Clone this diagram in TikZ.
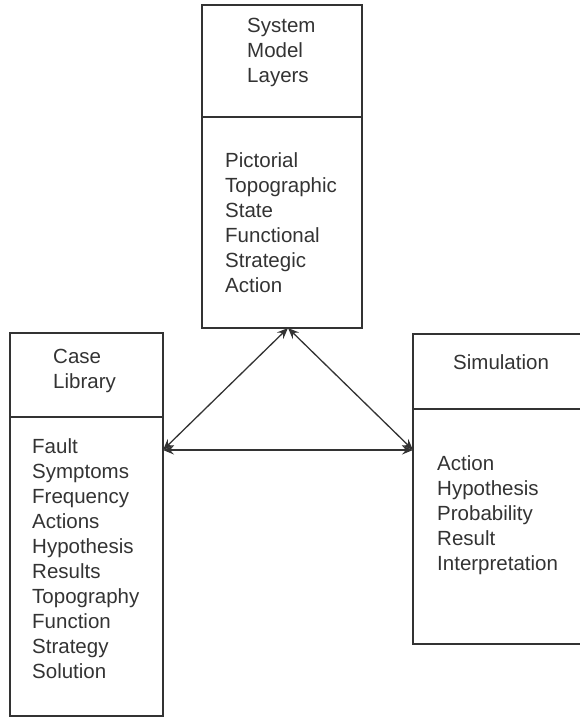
\documentclass[tikz,border=0pt]{standalone}
\usepackage{fontspec}
\setmainfont{Liberation Sans}
\usetikzlibrary{arrows.meta}
\definecolor{ink}{HTML}{333333}
\tikzset{
  panel/.style={draw=ink, line width=1.4pt, inner sep=0pt, outer sep=0pt, anchor=north west},
  divider/.style={draw=ink, line width=1.4pt},
  label/.style={text=ink, inner sep=0pt, anchor=base west,
    font=\fontsize{20.5}{25}\selectfont},
  link/.style={draw=ink, line width=1.3pt,
    {Stealth[length=11pt,width=9pt,inset=4pt]}-{Stealth[length=11pt,width=9pt,inset=4pt]}},
}
\newcommand{\lines}[1]{\begin{tabular}[t]{@{}l@{}}#1\end{tabular}}
\begin{document}
\begin{tikzpicture}[x=1pt,y=-1pt]
\useasboundingbox (0,0) rectangle (579,717);

% three panels
\node[panel, minimum width=160pt, minimum height=323pt] (sysBox) at (202,5) {};
\node[panel, minimum width=153pt, minimum height=383pt] (caseBox) at (10,333) {};
\node[panel, minimum width=170pt, minimum height=310pt] (simBox) at (413,334) {};

% header separators
\draw[divider] (sysBox.west |- 0,117) -- (sysBox.east |- 0,117);
\draw[divider] (caseBox.west |- 0,417) -- (caseBox.east |- 0,417);
\draw[divider] (simBox.west |- 0,409) -- (simBox.east |- 0,409);

% headers
\node[label] (sysHead) at (247,33) {\lines{System\\Model\\Layers}};
\node[label] (caseHead) at (53,363) {\lines{Case\\Library}};
\node[label] (simHead) at (453,369) {\lines{Simulation}};

% contents
\node[label] (sysList) at (225,167) {\lines{Pictorial\\Topographic\\State\\Functional\\Strategic\\Action}};
\node[label] (caseList) at (32,453) {\lines{Fault\\Symptoms\\Frequency\\Actions\\Hypothesis\\Results\\Topography\\Function\\Strategy\\Solution}};
\node[label] (simList) at (437,470) {\lines{Action\\Hypothesis\\Probability\\Result\\Interpretation}};

% connection points on the panel borders
\coordinate (sysPort) at (288,328);
\coordinate (casePort) at (163,450);
\coordinate (simPort) at (413,450);

% links
\draw[link] (sysPort) -- (casePort);
\draw[link] (sysPort) -- (simPort);
\draw[link] (casePort) -- (simPort);
\end{tikzpicture}
\end{document}
